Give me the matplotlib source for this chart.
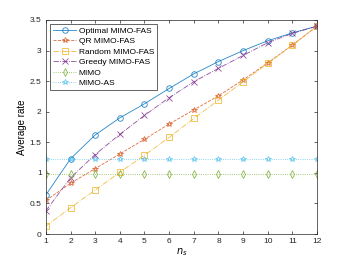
import numpy as np
import matplotlib
matplotlib.use('Agg')
from matplotlib import pyplot as plt

ns = np.arange(1, 13)
optimal = [0.64, 1.23, 1.62, 1.90, 2.13, 2.38, 2.62, 2.82, 3.00, 3.16, 3.29, 3.40]
qr = [0.55, 0.83, 1.07, 1.31, 1.55, 1.80, 2.03, 2.26, 2.52, 2.80, 3.09, 3.40]
random_fas = [0.13, 0.43, 0.72, 1.01, 1.29, 1.58, 1.89, 2.19, 2.49, 2.79, 3.09, 3.40]
greedy = [0.38, 0.92, 1.30, 1.63, 1.94, 2.23, 2.49, 2.71, 2.92, 3.13, 3.28, 3.40]
mimo = [0.98] * 12
mimo_as = [1.23] * 12

plt.rcParams['font.family'] = ['Liberation Sans', 'DejaVu Sans']

fig = plt.figure(figsize=(3.5, 2.63), dpi=100)
ax = fig.add_axes([0.131, 0.110, 0.775, 0.814])

kw = dict(lw=0.6, ms=4, mfc='none', mew=0.6, alpha=0.85)
ax.plot(ns, optimal, '-o', color='#0072BD', label='Optimal MIMO-FAS', **kw)
ax.plot(ns, qr, '--*', color='#D95319', label='QR MIMO-FAS', **kw)
ax.plot(ns, random_fas, '-.s', color='#EDB120', label='Random MIMO-FAS', **kw)
ax.plot(ns, greedy, '-.x', color='#7E2F8E', label='Greedy MIMO-FAS', **kw)
ax.plot(ns, mimo, ':d', color='#77AC30', label='MIMO', **kw)
ax.plot(ns, mimo_as, ':*', color='#4DBEEE', label='MIMO-AS', **kw)

ax.set_xlim(1, 12)
ax.set_ylim(0, 3.5)
ax.set_xticks(ns)
ax.set_yticks(np.arange(0, 3.6, 0.5))
ax.set_yticklabels(['0', '0.5', '1', '1.5', '2', '2.5', '3', '3.5'])
ax.tick_params(direction='in', top=True, right=True, labelsize=6, length=2.5, width=0.5,
               colors='#262626', pad=3)
for s in ax.spines.values():
    s.set_linewidth(0.5)
    s.set_color('#262626')
ax.set_xlabel('$n_s$', fontsize=7, labelpad=1)
ax.set_ylabel('Average rate', fontsize=7, labelpad=2)

leg = ax.legend(loc='upper left', fontsize=6, fancybox=False, edgecolor='#262626',
                handlelength=2.8, borderpad=0.35, labelspacing=0.32, handletextpad=0.3,
                borderaxespad=0.5, framealpha=1)
leg.get_frame().set_linewidth(0.5)

plt.savefig('out.png', dpi=100)
